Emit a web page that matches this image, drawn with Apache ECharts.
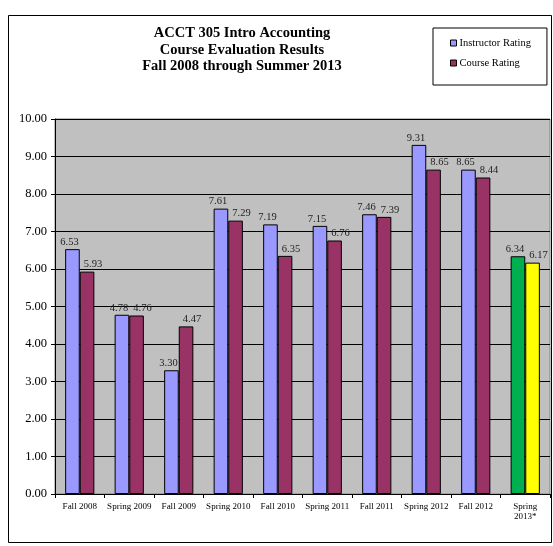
<!DOCTYPE html>
<html>
<head>
<meta charset="utf-8">
<script src="https://cdn.jsdelivr.net/npm/echarts@6/dist/echarts.min.js"></script>
<style>
  html, body { margin: 0; padding: 0; background: #fff; }
  #chart { width: 553px; height: 546px; }
</style>
</head>
<body>
<div id="chart"></div>
<script>
// Terms covered by the evaluations
const terms = ['Fall 2008', 'Spring 2009', 'Fall 2009', 'Spring 2010', 'Fall 2010',
  'Spring 2011', 'Fall 2011', 'Spring 2012', 'Fall 2012', 'Spring\n2013*'];

// Average ratings per term
const instructorRating = [6.53, 4.78, 3.30, 7.61, 7.19, 7.15, 7.46, 9.31, 8.65, 6.34];
const courseRating = [5.93, 4.76, 4.47, 7.29, 6.35, 6.76, 7.39, 8.65, 8.44, 6.17];

// Value axis ticks
const yTicks = [0, 1, 2, 3, 4, 5, 6, 7, 8, 9, 10];

const serif = '"Liberation Serif", "Times New Roman", serif';

// Most recent term is highlighted in its own colours
const highlightInstructor = '#00B050';
const highlightCourse = '#FFFF00';

function toBarData(values, lastColor) {
  return values.map((v, i) => i === values.length - 1
    ? { value: v, itemStyle: { color: lastColor } }
    : v);
}

const chart = echarts.init(document.getElementById('chart'), null, { renderer: 'canvas' });

// Value labels sit above each bar, nudged apart sideways so pairs don't collide
function barLabel(dx) {
  return {
    show: true,
    position: 'top',
    distance: 2,
    offset: [dx, 0],
    fontFamily: serif,
    fontSize: 10.5,
    lineHeight: 10,
    color: '#222',
    formatter: p => Number(p.value).toFixed(2)
  };
}

chart.setOption({
  backgroundColor: '#ffffff',
  animation: false,
  graphic: [{
    type: 'rect',
    shape: { x: 8.5, y: 15.5, width: 543, height: 527 },
    style: { fill: 'none', stroke: '#000', lineWidth: 1 },
    z: -10
  }],
  title: {
    text: 'ACCT 305 Intro Accounting\nCourse Evaluation Results\nFall 2008 through Summer 2013',
    left: 242,
    top: 25,
    textAlign: 'center',
    padding: 0,
    textStyle: {
      fontFamily: serif,
      fontSize: 14.5,
      fontWeight: 'bold',
      lineHeight: 16.5,
      color: '#000'
    }
  },
  legend: {
    orient: 'vertical',
    left: 433,
    top: 28,
    padding: [9, 16, 16, 17],
    itemGap: 8,
    itemWidth: 6,
    itemHeight: 6,
    itemStyle: { borderColor: '#000', borderWidth: 1 },
    icon: 'rect',
    borderColor: '#000',
    borderWidth: 1,
    backgroundColor: '#fff',
    textStyle: { fontFamily: serif, fontSize: 10.5, color: '#000', lineHeight: 12, padding: [0, 0, 0, -2] },
    data: ['Instructor Rating', 'Course Rating']
  },
  grid: {
    left: 55,
    right: 3,
    top: 119,
    bottom: 52,
    show: true,
    backgroundColor: '#C0C0C0',
    borderColor: '#808080',
    borderWidth: 1
  },
  xAxis: {
    type: 'category',
    data: terms,
    axisLine: { show: true, lineStyle: { color: '#000', width: 1 } },
    axisTick: { show: true, length: 4, alignWithLabel: false, lineStyle: { color: '#000' } },
    axisLabel: {
      interval: 0,
      margin: 7,
      fontFamily: serif,
      fontSize: 9,
      lineHeight: 10.5,
      color: '#000'
    }
  },
  yAxis: {
    type: 'value',
    min: yTicks[0],
    max: yTicks[yTicks.length - 1],
    interval: 1,
    axisLine: { show: true, lineStyle: { color: '#000', width: 1 } },
    axisTick: { show: true, length: 4, lineStyle: { color: '#000' } },
    splitLine: { show: true, lineStyle: { color: '#000', width: 1 } },
    axisLabel: {
      margin: 8,
      fontFamily: serif,
      fontSize: 12.5,
      color: '#000',
      formatter: v => v.toFixed(2)
    }
  },
  series: [
    {
      name: 'Instructor Rating',
      type: 'bar',
      data: toBarData(instructorRating, highlightInstructor),
      itemStyle: { color: '#9999FF', borderColor: '#000', borderWidth: 1 },
      barGap: '0%',
      barCategoryGap: '41%',
      label: barLabel(-3)
    },
    {
      name: 'Course Rating',
      type: 'bar',
      data: toBarData(courseRating, highlightCourse),
      itemStyle: { color: '#993366', borderColor: '#000', borderWidth: 1 },
      barGap: '0%',
      barCategoryGap: '41%',
      label: barLabel(6)
    }
  ]
});
</script>
</body>
</html>
